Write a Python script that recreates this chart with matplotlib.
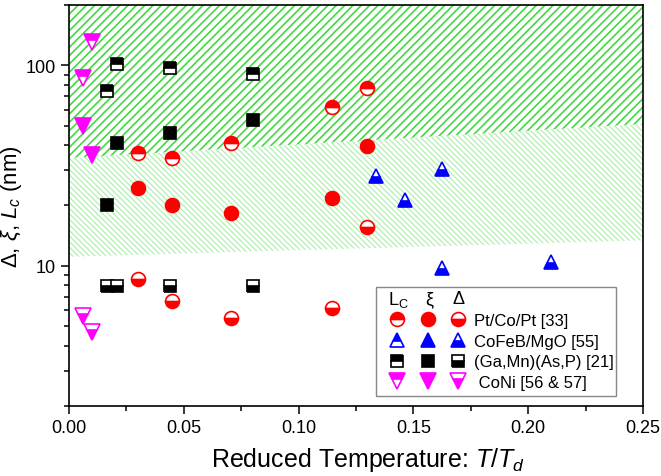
import matplotlib
matplotlib.use('Agg')
import matplotlib.pyplot as plt
from matplotlib.lines import Line2D
from matplotlib.legend_handler import HandlerTuple
from matplotlib.ticker import MultipleLocator, FormatStrFormatter, LogLocator, NullFormatter, FuncFormatter

plt.rcParams['font.family'] = 'Liberation Sans'
plt.rcParams['mathtext.fontset'] = 'custom'
plt.rcParams['mathtext.rm'] = 'Liberation Sans'
plt.rcParams['mathtext.it'] = 'Liberation Sans:italic'

# Pt/Co/Pt [33]
pt_T = [0.030, 0.045, 0.0705, 0.1145, 0.130]
pt_Lc = [36.6, 34.5, 41.2, 62.1, 76.7]
pt_xi = [24.5, 20.2, 18.4, 21.9, 39.4]
pt_delta = [8.6, 6.67, 5.48, 6.18, 15.6]

# CoFeB/MgO [55] (only domain wall width measured)
cofeb_T = [0.1335, 0.1465, 0.1626, 0.1626, 0.2099]
cofeb_delta = [28.2, 21.4, 30.5, 9.8, 10.4]

# (Ga,Mn)(As,P) [21]
ga_T = [0.0164, 0.021, 0.044, 0.080]
ga_Lc = [74.7, 102.0, 97.4, 90.1]
ga_xi = [20.2, 41.1, 46.2, 53.1]
ga_delta = [7.97, 7.97, 7.97, 7.97]

# CoNi [56 & 57]
coni_T = [0.006, 0.0101]
coni_Lc = [86.1, 131.0]
coni_xi = [49.7, 35.6]
coni_delta = [5.64, 4.66]

# shaded bands (edges at T = 0 and T = 0.25)
band_T = [0.0, 0.25]
band_top = [200.0, 200.0]
band_mid = [34.5, 51.0]
band_low = [11.1, 13.4]

materials = [
    ('Pt/Co/Pt [33]', 'o', '#ff0000', 10,
     {'top': (pt_T, pt_Lc), 'full': (pt_T, pt_xi), 'bottom': (pt_T, pt_delta)}),
    ('CoFeB/MgO [55]', '^', '#0000ff', 10,
     {'top': ([], []), 'full': ([], []), 'bottom': (cofeb_T, cofeb_delta)}),
    ('(Ga,Mn)(As,P) [21]', 's', '#000000', 8,
     {'top': (ga_T, ga_Lc), 'full': (ga_T, ga_xi), 'bottom': (ga_T, ga_delta)}),
    (' CoNi [56 & 57]', 'v', '#ff00ff', 11,
     {'top': (coni_T, coni_Lc), 'full': (coni_T, coni_xi), 'bottom': (coni_T, coni_delta)}),
]

fig, ax = plt.subplots(figsize=(6.61, 4.77), dpi=100)
fig.subplots_adjust(left=0.1044, right=0.9728, bottom=0.1468, top=0.9874)

upper = ax.fill_between(band_T, band_mid, band_top, facecolor='none',
                        edgecolor='#45d845', hatch='////', linewidth=0, zorder=0)
lower = ax.fill_between(band_T, band_low, band_mid, facecolor='none',
                        edgecolor='#aaeeaa', hatch='\\' * 6, linewidth=0, zorder=0)
if hasattr(upper, 'set_hatch_linewidth'):
    upper.set_hatch_linewidth(1.2)
    lower.set_hatch_linewidth(0.8)

handles, labels = [], []
for label, marker, color, ms, series in materials:
    row = []
    for kind in ('top', 'full', 'bottom'):
        x, y = series[kind]
        kw = dict(linestyle='none', marker=marker, markersize=ms, color=color,
                  markeredgecolor=color, markeredgewidth=1.2, fillstyle=kind,
                  markerfacecoloralt='white')
        ax.plot(x, y, zorder=3, **kw)
        row.append(Line2D([], [], **kw))
    handles.append(tuple(row))
    labels.append(label)

ax.set_yscale('log')
ax.set_xlim(0, 0.25)
ax.set_ylim(2, 200)

ax.xaxis.set_major_locator(MultipleLocator(0.05))
ax.xaxis.set_minor_locator(MultipleLocator(0.025))
ax.xaxis.set_major_formatter(FormatStrFormatter('%.2f'))
ax.yaxis.set_major_locator(LogLocator(base=10))
ax.yaxis.set_minor_locator(LogLocator(base=10, subs=range(2, 10)))
ax.yaxis.set_major_formatter(FuncFormatter(lambda v, _: f'{v:g}'))
ax.yaxis.set_minor_formatter(NullFormatter())

ax.tick_params(which='both', direction='out', top=False, right=False,
               labelsize=13, width=1.1)
ax.tick_params(which='major', length=6)
ax.tick_params(which='minor', length=3.5)
for sp in ax.spines.values():
    sp.set_linewidth(1.2)

ax.set_xlabel(r'Reduced Temperature: $T/T_d$', fontsize=18, labelpad=6)
ax.xaxis.label.set_x(0.52)
ax.set_ylabel(r'$\mathit{Δ}$, $\mathit{ξ}$, $\mathit{L_c}$ (nm)', fontsize=16, labelpad=1)

leg = ax.legend(handles, labels, loc='lower left',
                bbox_to_anchor=(0.535, 0.025, 0.418, 0.274), mode='expand',
                borderaxespad=0, borderpad=0.35, handlelength=5.5, handletextpad=0.0,
                labelspacing=0.34, fontsize=12, title=' ', title_fontsize=12,
                handler_map={tuple: HandlerTuple(ndivide=None, pad=0)},
                frameon=True, fancybox=False, framealpha=1, edgecolor='#888888')
leg.get_frame().set_linewidth(1.0)

# column headers of the legend
for xh, txt in [(0.573, r'L$_\mathregular{C}$'), (0.627, 'ξ'), (0.679, 'Δ')]:
    ax.text(xh, 0.267, txt, transform=ax.transAxes, ha='center', va='center',
            fontsize=13, zorder=6)

fig.savefig('out.png', dpi=100)
